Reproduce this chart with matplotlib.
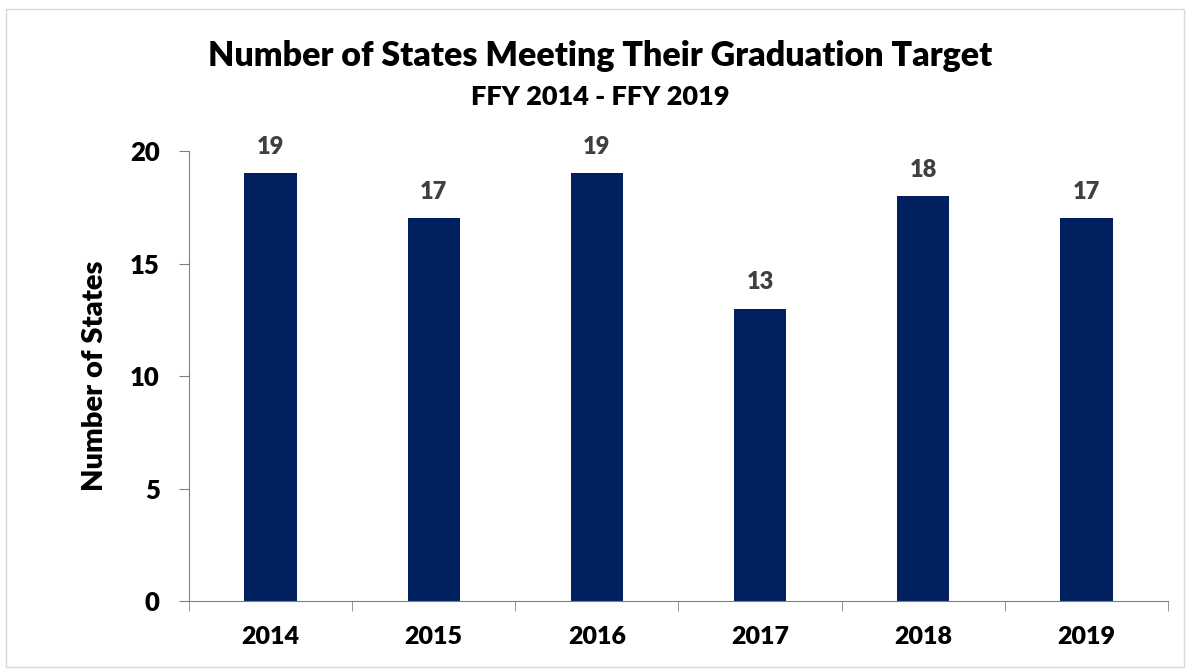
import numpy as np
import matplotlib.pyplot as plt
from matplotlib.patches import Rectangle

years = ["2014", "2015", "2016", "2017", "2018", "2019"]
states = [19, 17, 19, 13, 18, 17]
yticks = [0, 5, 10, 15, 20]

plt.rcParams['font.family'] = ['Lato', 'DejaVu Sans']
wt = "heavy"

fig = plt.figure(figsize=(11.9, 6.69), dpi=100)
ax = fig.add_axes([0.1588, 0.1016, 0.8227, 0.6727])

x = np.arange(len(years))
ax.bar(x, states, width=0.32, color="#002060")

for i, v in enumerate(states):
    ax.annotate(str(v), (x[i], v), xytext=(0, 11), textcoords="offset points",
                ha="center", va="bottom", fontsize=17, fontweight=wt, color="#404040")

ax.set_xlim(-0.5, len(years) - 0.5)
ax.set_ylim(0, 20)
ax.set_yticks(yticks)
ax.set_yticklabels([str(t) for t in yticks], fontsize=18.5, fontweight=wt)
ax.set_xticks(x)
ax.set_xticklabels(years, fontsize=18, fontweight=wt)
ax.tick_params(axis="x", which="major", length=0, pad=18)
ax.set_xticks(np.arange(-0.5, len(years), 1), minor=True)
ax.tick_params(axis="x", which="minor", length=7, color="#808080", direction="out")
ax.tick_params(axis="y", length=7, color="#808080", pad=14)

for s in ["top", "right"]:
    ax.spines[s].set_visible(False)
for s in ["left", "bottom"]:
    ax.spines[s].set_color("#808080")

ax.set_ylabel("Number of States", fontsize=21, fontweight=wt, labelpad=16)

fig.text(0.5045, 0.917, "Number of States Meeting Their Graduation Target",
         ha="center", va="center", fontsize=24.5, fontweight=wt)
fig.text(0.5045, 0.855, "FFY 2014 - FFY 2019",
         ha="center", va="center", fontsize=19.5, fontweight=wt)

fig.patches.append(Rectangle((0.005, 0.003), 0.99, 0.984, transform=fig.transFigure,
                             fill=False, edgecolor="#d9d9d9", linewidth=1))

fig.savefig("out.png", dpi=100)
